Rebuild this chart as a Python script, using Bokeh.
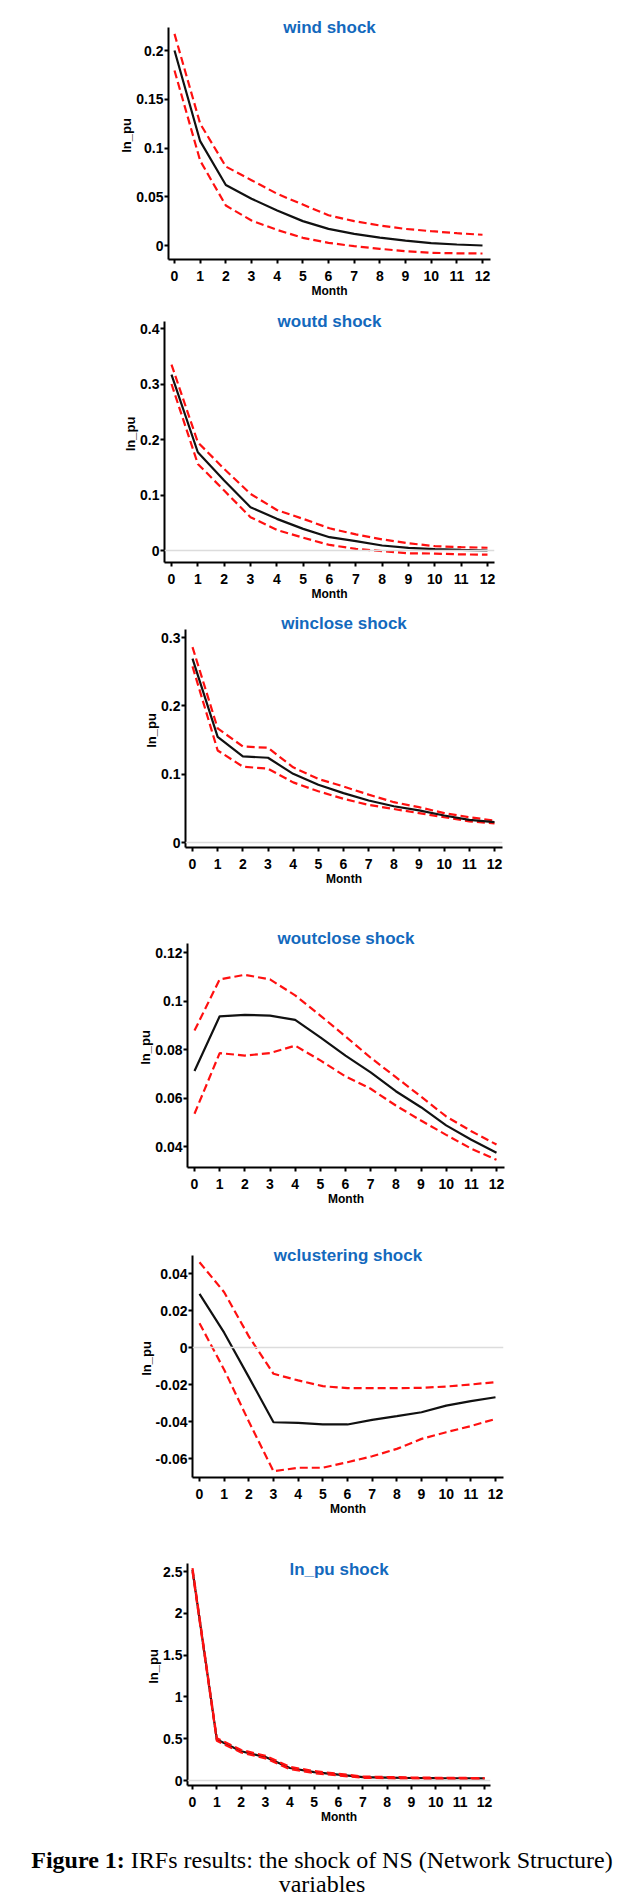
from bokeh.plotting import figure
from bokeh.models import FixedTicker, Span, Label, Div
from bokeh.layouts import column
from bokeh.embed import file_html
from bokeh.resources import INLINE

# ---------------- data ----------------
months = list(range(13))
month_labels = [str(m) for m in months]

wind_irf = [0.200, 0.107, 0.062, 0.048, 0.036, 0.025, 0.017, 0.012, 0.008, 0.005, 0.0025, 0.001, 0.0]
wind_upper = [0.217, 0.125, 0.081, 0.067, 0.053, 0.042, 0.031, 0.025, 0.0205, 0.017, 0.0147, 0.0126, 0.011]
wind_lower = [0.1795, 0.087, 0.041, 0.0256, 0.016, 0.0079, 0.0027, -0.0007, -0.0034, -0.0058, -0.0075, -0.008, -0.0082]
wind_yticks = [0, 0.05, 0.1, 0.15, 0.2]
wind_ylabels = ["0", "0.05", "0.1", "0.15", "0.2"]

woutd_irf = [0.317, 0.177, 0.126, 0.078, 0.057, 0.039, 0.024, 0.0168, 0.009, 0.0048, 0.0024, 0.001, 0.0]
woutd_upper = [0.335, 0.195, 0.147, 0.102, 0.073, 0.057, 0.040, 0.029, 0.020, 0.013, 0.0078, 0.006, 0.005]
woutd_lower = [0.300, 0.156, 0.108, 0.060, 0.037, 0.023, 0.010, 0.003, -0.001, -0.005, -0.0055, -0.007, -0.0075]
woutd_yticks = [0, 0.1, 0.2, 0.3, 0.4]
woutd_ylabels = ["0", "0.1", "0.2", "0.3", "0.4"]

winclose_irf = [0.269, 0.1546, 0.126, 0.124, 0.1005, 0.0845, 0.0722, 0.0615, 0.053, 0.047, 0.0395, 0.033, 0.0297]
winclose_upper = [0.286, 0.167, 0.1405, 0.1386, 0.110, 0.093, 0.082, 0.070, 0.059, 0.0517, 0.043, 0.037, 0.032]
winclose_lower = [0.2577, 0.1347, 0.111, 0.108, 0.088, 0.075, 0.064, 0.055, 0.049, 0.043, 0.037, 0.031, 0.028]
winclose_yticks = [0, 0.1, 0.2, 0.3]
winclose_ylabels = ["0", "0.1", "0.2", "0.3"]

woutclose_irf = [0.0711, 0.0937, 0.0943, 0.094, 0.0922, 0.085, 0.0775, 0.0706, 0.0628, 0.0562, 0.0487, 0.0428, 0.0374]
woutclose_upper = [0.0878, 0.1089, 0.1108, 0.1089, 0.1023, 0.094, 0.0854, 0.0766, 0.0686, 0.0606, 0.0524, 0.0463, 0.0408]
woutclose_lower = [0.0535, 0.0785, 0.0775, 0.0785, 0.0816, 0.0755, 0.0689, 0.0638, 0.0569, 0.0507, 0.0448, 0.0391, 0.0345]
woutclose_yticks = [0.04, 0.06, 0.08, 0.1, 0.12]
woutclose_ylabels = ["0.04", "0.06", "0.08", "0.1", "0.12"]

wclustering_irf = [0.029, 0.008, -0.016, -0.0404, -0.0407, -0.0416, -0.0416, -0.0391, -0.0371, -0.035, -0.0314, -0.029, -0.0269]
wclustering_upper = [0.0461, 0.0299, 0.006, -0.0142, -0.0178, -0.0209, -0.022, -0.022, -0.022, -0.0218, -0.0211, -0.020, -0.0187]
wclustering_lower = [0.0131, -0.012, -0.040, -0.0669, -0.065, -0.065, -0.062, -0.0588, -0.0548, -0.0494, -0.0458, -0.0425, -0.0386]
wclustering_yticks = [-0.06, -0.04, -0.02, 0, 0.02, 0.04]
wclustering_ylabels = ["-0.06", "-0.04", "-0.02", "0", "0.02", "0.04"]

lnpu_irf = [2.52, 0.49, 0.35, 0.28, 0.15, 0.10, 0.07, 0.04, 0.035, 0.03, 0.028, 0.027, 0.025]
lnpu_upper = [2.54, 0.505, 0.365, 0.295, 0.163, 0.112, 0.08, 0.048, 0.042, 0.036, 0.033, 0.031, 0.029]
lnpu_lower = [2.50, 0.475, 0.335, 0.265, 0.137, 0.088, 0.06, 0.032, 0.028, 0.024, 0.023, 0.023, 0.021]
lnpu_yticks = [0, 0.5, 1, 1.5, 2, 2.5]
lnpu_ylabels = ["0", "0.5", "1", "1.5", "2", "2.5"]

titles = ["wind shock", "woutd shock", "winclose shock", "woutclose shock", "wclustering shock", "ln_pu shock"]
y_axis_label = "ln_pu"
x_axis_label = "Month"
caption_bold = "Figure 1:"
caption_rest = "IRFs results: the shock of NS (Network Structure)"
caption_line2 = "variables"

series = [
    (wind_irf, wind_upper, wind_lower, wind_yticks, wind_ylabels),
    (woutd_irf, woutd_upper, woutd_lower, woutd_yticks, woutd_ylabels),
    (winclose_irf, winclose_upper, winclose_lower, winclose_yticks, winclose_ylabels),
    (woutclose_irf, woutclose_upper, woutclose_lower, woutclose_yticks, woutclose_ylabels),
    (wclustering_irf, wclustering_upper, wclustering_lower, wclustering_yticks, wclustering_ylabels),
    (lnpu_irf, lnpu_upper, lnpu_lower, lnpu_yticks, lnpu_ylabels),
]

# ---------------- layout (page pixels) ----------------
geo = [
    dict(L=168, R=490, T=27, B=259, x0=174, x12=482, a=(0, 245), b=(0.2, 50), ty=27, zero=False, red_top=False),
    dict(L=164, R=494, T=321, B=562, x0=171, x12=487, a=(0, 550), b=(0.4, 328), ty=321, zero=True, red_top=False),
    dict(L=185, R=502, T=629, B=847, x0=192, x12=494, a=(0, 842), b=(0.3, 637), ty=623, zero=True, red_top=False),
    dict(L=187, R=504, T=943, B=1167, x0=194, x12=496, a=(0.04, 1146), b=(0.12, 952), ty=938, zero=False, red_top=False),
    dict(L=192, R=503, T=1255, B=1477, x0=199, x12=495, a=(-0.06, 1458), b=(0.04, 1273), ty=1255, zero=True, red_top=False),
    dict(L=187, R=490, T=1563, B=1785, x0=192, x12=484, a=(0, 1780), b=(2.5, 1571), ty=1569, zero=True, red_top=True),
]
fig_tops = [0, 300, 605, 915, 1230, 1540, 1826]
CAP_H = 70
BORDER_L = 130
BORDER_R = 10
EXT = 16   # extra frame room above the axis top, for the title
FONT = "Liberation Sans"
TITLE_COLOR = "#1369bd"
RED = "#ff1010"

figs = []
for i, (irf, up, lo, yt, yl) in enumerate(series):
    g = geo[i]
    top, bottom = fig_tops[i], fig_tops[i + 1]
    ppm = (g["x12"] - g["x0"]) / 12.0
    xs = (g["L"] - g["x0"]) / ppm
    xe = (g["R"] - g["x0"]) / ppm
    (va, pa), (vb, pb) = g["a"], g["b"]
    ppu = (pa - pb) / (vb - va)
    y_axis_top = vb + (pb - g["T"]) / ppu
    ye = vb + (pb - (g["T"] - EXT)) / ppu
    ys = va - (g["B"] - pa) / ppu
    fw = g["R"] - g["L"]
    fh = g["B"] - g["T"] + EXT
    dx = g["L"] - BORDER_L
    bt = g["T"] - EXT - top
    bb = bottom - g["B"]
    p = figure(frame_width=fw, frame_height=fh,
               width=BORDER_L + fw + BORDER_R, height=bt + fh + bb,
               min_border_left=BORDER_L, min_border_right=BORDER_R,
               min_border_top=bt, min_border_bottom=bb,
               x_range=(xs, xe), y_range=(ys, ye), margin=0,
               output_backend="svg", toolbar_location=None, tools="",
               styles={"transform": f"translateX({dx}px)", "flex-shrink": "0"})
    p.outline_line_color = None
    p.background_fill_color = "white"
    p.border_fill_color = "white"
    p.xgrid.visible = False
    p.ygrid.visible = False

    if g["zero"]:
        p.add_layout(Span(location=0, dimension="width", line_color="#dcdcdc", line_width=1.5))

    def red():
        p.line(months, up, line_color=RED, line_width=2.2, line_dash="8 4")
        p.line(months, lo, line_color=RED, line_width=2.2, line_dash="8 4")

    if g["red_top"]:
        p.line(months, irf, line_color="#111111", line_width=2.2)
        red()
    else:
        red()
        p.line(months, irf, line_color="#111111", line_width=2.2)

    for ax in (p.xaxis[0], p.yaxis[0]):
        ax.axis_line_color = "black"
        ax.axis_line_width = 2
        ax.major_tick_line_color = "black"
        ax.major_tick_line_width = 2
        ax.major_tick_out = 4
        ax.major_tick_in = 0
        ax.minor_tick_line_color = None
        ax.major_label_text_font = FONT
        ax.major_label_text_font_style = "bold"
        ax.major_label_text_font_size = "14px"
        ax.major_label_text_color = "black"
        ax.axis_label_text_font = FONT
        ax.axis_label_text_font_style = "bold"
        ax.axis_label_text_color = "black"

    p.xaxis.ticker = FixedTicker(ticks=months)
    p.xaxis.major_label_overrides = {m: s for m, s in zip(months, month_labels)}
    p.xaxis.major_label_standoff = 7
    p.xaxis.axis_label = x_axis_label
    p.xaxis.axis_label_text_font_size = "12px"
    p.xaxis.axis_label_standoff = 0

    p.yaxis.ticker = FixedTicker(ticks=yt)
    p.yaxis.bounds = (ys, y_axis_top)
    p.yaxis.major_label_overrides = {v: s for v, s in zip(yt, yl)}
    p.yaxis.major_label_standoff = 1
    p.yaxis.axis_label = y_axis_label
    p.yaxis.axis_label_text_font_size = "13px"
    p.yaxis.axis_label_standoff = -1

    ty = y_axis_top - (g["ty"] - g["T"]) / ppu
    p.add_layout(Label(x=(xs + xe) / 2, y=ty, text=titles[i], text_align="center",
                       text_baseline="middle", text_font=FONT, text_font_style="bold",
                       text_font_size="17px", text_color=TITLE_COLOR))
    figs.append(p)

caption = Div(
    text=('<div style="font-family:\'Liberation Serif\',\'Times New Roman\',serif;font-size:24px;'
          'line-height:24px;text-align:center;color:#000;width:636px;box-sizing:border-box;'
          'padding-top:22px;padding-left:8px;">'
          f'<b>{caption_bold}</b> {caption_rest}<br>{caption_line2}</div>'),
    width=636, height=CAP_H, margin=0)

layout = column(*figs, caption, spacing=0)
open("out.html", "w").write(file_html(layout, INLINE))
